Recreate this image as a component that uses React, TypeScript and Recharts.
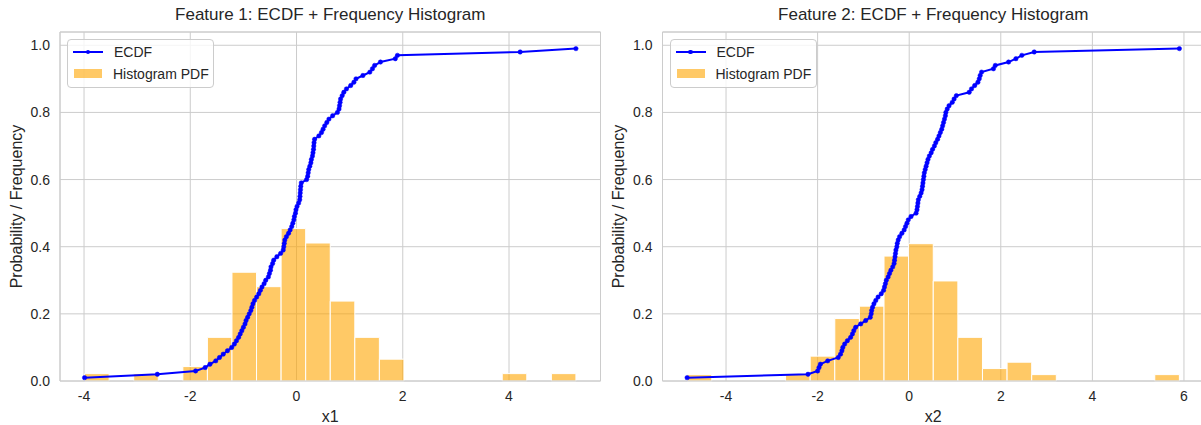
import { ComposedChart, Line, XAxis, YAxis, CartesianGrid, ReferenceArea } from "recharts"

const FONT = '"Liberation Sans", Arial, sans-serif'
const TEXT = "#262626"
const GRID = "#cccccc"
const HIST_FILL = "#ffa500"

// ---- Feature 1 ----
// sorted sample values (ECDF level = rank / 100)
const ecdf1X = [
  -3.99, -2.62, -1.9, -1.72, -1.63, -1.52, -1.45, -1.38, -1.3, -1.22,
  -1.17, -1.13, -1.09, -1.06, -1.03, -1.0, -0.97, -0.95, -0.92, -0.89,
  -0.86, -0.84, -0.82, -0.79, -0.75, -0.71, -0.68, -0.65, -0.61, -0.58,
  -0.53, -0.51, -0.49, -0.48, -0.45, -0.43, -0.37, -0.3, -0.25, -0.24,
  -0.23, -0.22, -0.19, -0.15, -0.12, -0.09, -0.07, -0.05, -0.04, -0.02,
  -0.01, 0.01, 0.04, 0.06, 0.065, 0.07, 0.075, 0.08, 0.09, 0.19,
  0.21, 0.22, 0.23, 0.25, 0.27, 0.28, 0.3, 0.31, 0.32, 0.325,
  0.33, 0.34, 0.42, 0.47, 0.5, 0.53, 0.57, 0.61, 0.68, 0.77,
  0.8, 0.81, 0.82, 0.83, 0.86, 0.89, 0.94, 1.02, 1.08, 1.12,
  1.25, 1.38, 1.43, 1.47, 1.58, 1.86, 1.9, 4.21, 5.26,
]
const hist1Edges = [
  -3.99, -3.5275, -3.065, -2.6025, -2.14, -1.6775, -1.215, -0.7525, -0.29, 0.1725, 0.635,
  1.0975, 1.56, 2.0225, 2.485, 2.9475, 3.41, 3.8725, 4.335, 4.7975, 5.26,
]
const hist1Heights = [
  0.022, 0, 0.022, 0, 0.043, 0.13, 0.324, 0.281, 0.454, 0.411,
  0.238, 0.13, 0.065, 0, 0, 0, 0, 0.022, 0, 0.022,
]
const x1Ticks = [-4, -2, 0, 2, 4]

// ---- Feature 2 ----
const ecdf2X = [
  -4.85, -2.21, -2.0, -1.97, -1.94, -1.78, -1.55, -1.5, -1.47, -1.45,
  -1.41, -1.35, -1.28, -1.24, -1.21, -1.17, -1.06, -0.95, -0.85, -0.83,
  -0.82, -0.8, -0.77, -0.73, -0.68, -0.61, -0.56, -0.54, -0.52, -0.5,
  -0.46, -0.43, -0.4, -0.36, -0.33, -0.32, -0.31, -0.3, -0.29, -0.27,
  -0.26, -0.24, -0.21, -0.16, -0.11, -0.08, -0.05, -0.02, 0.04, 0.15,
  0.17, 0.18, 0.19, 0.2, 0.23, 0.26, 0.28, 0.29, 0.3, 0.31,
  0.32, 0.33, 0.35, 0.37, 0.39, 0.41, 0.44, 0.48, 0.51, 0.55,
  0.58, 0.62, 0.65, 0.68, 0.71, 0.73, 0.75, 0.77, 0.79, 0.8,
  0.83, 0.87, 0.94, 0.98, 1.03, 1.31, 1.36, 1.43, 1.5, 1.53,
  1.55, 1.58, 1.84, 1.88, 2.17, 2.33, 2.46, 2.73, 5.9,
]
const hist2Edges = [
  -4.85, -4.3125, -3.775, -3.2375, -2.7, -2.1625, -1.625, -1.0875, -0.55, -0.0125, 0.525,
  1.0625, 1.6, 2.1375, 2.675, 3.2125, 3.75, 4.2875, 4.825, 5.3625, 5.9,
]
const hist2Heights = [
  0.019, 0, 0, 0, 0.019, 0.074, 0.186, 0.223, 0.372, 0.409,
  0.298, 0.13, 0.037, 0.056, 0.019, 0, 0, 0, 0, 0.019,
]
const x2Ticks = [-4, -2, 0, 2, 4, 6]

const yTicks = [0, 0.2, 0.4, 0.6, 0.8, 1.0]
const SAMPLE_N = 100

type PanelProps = {
  title: string
  xLabel: string
  ecdfX: number[]
  edges: number[]
  heights: number[]
  xTicks: number[]
  left: number
  width: number
  margin: { top: number; right: number; bottom: number; left: number }
}

function Panel({ title, xLabel, ecdfX, edges, heights, xTicks, left, width, margin }: PanelProps) {
  const data = ecdfX.map((x, i) => ({ x, y: (i + 1) / SAMPLE_N }))
  // matplotlib-style 5% margins on x, sticky zero at the bottom
  const xMin = ecdfX[0]
  const xMax = ecdfX[ecdfX.length - 1]
  const pad = (xMax - xMin) * 0.05
  const xDomain: [number, number] = [xMin - pad, xMax + pad]
  const yMaxData = data[data.length - 1].y
  const yMax = yMaxData * 1.05
  const plotLeft = left + margin.left + 50
  const plotRight = left + width - margin.right

  return (
    <>
      <div
        style={{
          position: "absolute",
          left: plotLeft,
          width: plotRight - plotLeft,
          top: 5,
          textAlign: "center",
          fontFamily: FONT,
          fontSize: 17,
          lineHeight: "20px",
          color: TEXT,
        }}
      >
        {title}
      </div>
      <div style={{ position: "absolute", left, top: 0 }}>
        <ComposedChart width={width} height={425} data={data} margin={margin}>
          <CartesianGrid stroke={GRID} strokeWidth={1} />
          <XAxis
            dataKey="x"
            type="number"
            domain={xDomain}
            allowDataOverflow
            ticks={xTicks}
            tickLine={false}
            axisLine={false}
            tickSize={0}
            tickMargin={10}
            height={44}
            tick={{ fontSize: 14, fill: TEXT, fontFamily: FONT }}
            label={{ value: xLabel, position: "insideBottom", offset: 3, fontSize: 16, fill: TEXT, fontFamily: FONT }}
          />
          <YAxis
            type="number"
            domain={[0, yMax]}
            allowDataOverflow
            ticks={yTicks}
            tickFormatter={(v: number) => v.toFixed(1)}
            tickLine={false}
            axisLine={false}
            tickSize={0}
            tickMargin={10}
            width={50}
            tick={{ fontSize: 14, fill: TEXT, fontFamily: FONT }}
            label={{
              value: "Probability / Frequency",
              angle: -90,
              position: "insideLeft",
              offset: 6,
              fontSize: 16,
              fill: TEXT,
              fontFamily: FONT,
              style: { textAnchor: "middle" },
            }}
          />
          {heights.map((h, i) =>
            h > 0 ? (
              <ReferenceArea
                key={i}
                x1={edges[i]}
                x2={edges[i + 1]}
                y1={0}
                y2={h}
                fill={HIST_FILL}
                fillOpacity={0.6}
                stroke="#ffffff"
                strokeWidth={1}
                ifOverflow="visible"
              />
            ) : null
          )}
          <Line
            dataKey="y"
            type="linear"
            stroke="#0000ff"
            strokeWidth={2}
            dot={{ r: 2.2, fill: "#0000ff", stroke: "#0000ff", strokeWidth: 0.5 }}
            isAnimationActive={false}
          />
          <ReferenceArea
            x1={xDomain[0]}
            x2={xDomain[1]}
            y1={0}
            y2={yMax}
            fill="none"
            stroke={GRID}
            strokeWidth={1}
            ifOverflow="visible"
          />
        </ComposedChart>
      </div>
      <Legend left={plotLeft + 7} top={39} />
    </>
  )
}

function Legend({ left, top }: { left: number; top: number }) {
  return (
    <div
      style={{
        position: "absolute",
        left,
        top,
        width: 147,
        height: 49,
        boxSizing: "border-box",
        border: `1px solid ${GRID}`,
        borderRadius: 4,
        background: "rgba(255,255,255,0.8)",
        fontFamily: FONT,
        fontSize: 14,
        color: TEXT,
      }}
    >
      <div style={{ position: "absolute", left: 5, top: 11, width: 30, height: 2, background: "#0000ff" }} />
      <div
        style={{ position: "absolute", left: 17.8, top: 9.8, width: 4.4, height: 4.4, borderRadius: "50%", background: "#0000ff" }}
      />
      <div style={{ position: "absolute", left: 46, top: 3, lineHeight: "18px" }}>ECDF</div>
      <div style={{ position: "absolute", left: 6, top: 29, width: 28, height: 9, background: HIST_FILL, opacity: 0.6 }} />
      <div style={{ position: "absolute", left: 45, top: 25, lineHeight: "18px" }}>Histogram PDF</div>
    </div>
  )
}

export default function App() {
  return (
    <div
      style={{
        position: "fixed",
        left: 0,
        top: 0,
        width: 1201,
        height: 425,
        overflow: "hidden",
        background: "#ffffff",
      }}
    >
      <Panel
        title="Feature 1: ECDF + Frequency Histogram"
        xLabel="x1"
        ecdfX={ecdf1X}
        edges={hist1Edges}
        heights={hist1Heights}
        xTicks={x1Ticks}
        left={0}
        width={603}
        margin={{ top: 32, right: 2.5, bottom: 0, left: 10 }}
      />
      <Panel
        title="Feature 2: ECDF + Frequency Histogram"
        xLabel="x2"
        ecdfX={ecdf2X}
        edges={hist2Edges}
        heights={hist2Heights}
        xTicks={x2Ticks}
        left={610}
        width={600}
        margin={{ top: 32, right: 6, bottom: 0, left: 2.5 }}
      />
    </div>
  )
}
